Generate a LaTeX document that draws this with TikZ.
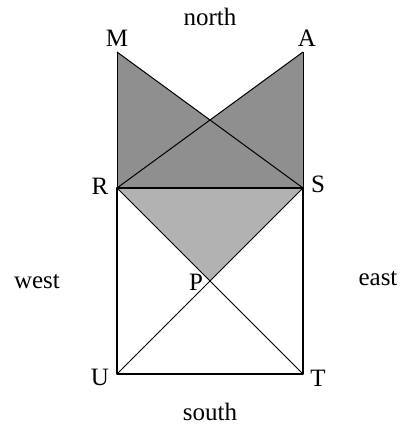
\documentclass[tikz,border=0pt]{standalone}
\usepackage{fontspec}
\setmainfont{Liberation Serif}
\definecolor{darkg}{gray}{0.56}
\definecolor{lightg}{gray}{0.70}
\tikzset{
  lbl/.style={font=\fontsize{25}{27}\selectfont, inner sep=0pt},
  thick edge/.style={line width=2.2pt, line cap=round, line join=round},
  thin edge/.style={line width=1pt}
}
\begin{document}
\begin{tikzpicture}[x=1pt,y=-1pt]
\useasboundingbox (0,0) rectangle (402,433);
\coordinate (M) at (117,52);
\coordinate (A) at (303,52);
\coordinate (R) at (117,188);
\coordinate (S) at (303,188);
\coordinate (T) at (303,374);
\coordinate (U) at (117,374);
\coordinate (P) at (210,281);
% shaded regions
\fill[darkg] (M) -- (S) -- (R) -- cycle;
\fill[darkg] (A) -- (R) -- (S) -- cycle;
\fill[lightg] (R) -- (S) -- (P) -- cycle;
% thin lines
\draw[thin edge] (M) -- (R);
\draw[thin edge] (A) -- (S);
\draw[thin edge] (M) -- (S);
\draw[thin edge] (A) -- (R);
\draw[thin edge] (R) -- (T);
\draw[thin edge] (S) -- (U);
% square
\draw[thick edge] (R) -- (S) -- (T) -- (U) -- cycle;
% labels
\node[lbl] (lM) at (117,38) {M};
\node[lbl] (lA) at (307,38) {A};
\node[lbl] (lR) at (100,186) {R};
\node[lbl] (lS) at (318,184) {S};
\node[lbl] (lP) at (196,282) {P};
\node[lbl] (lU) at (100,377) {U};
\node[lbl] (lT) at (318,378) {T};
\node[lbl] (ln) at (210,17) {north};
\node[lbl] (ls) at (210,412) {south};
\node[lbl] (lw) at (37,282) {west};
\node[lbl] (le) at (378,279) {east};
\end{tikzpicture}
\end{document}
